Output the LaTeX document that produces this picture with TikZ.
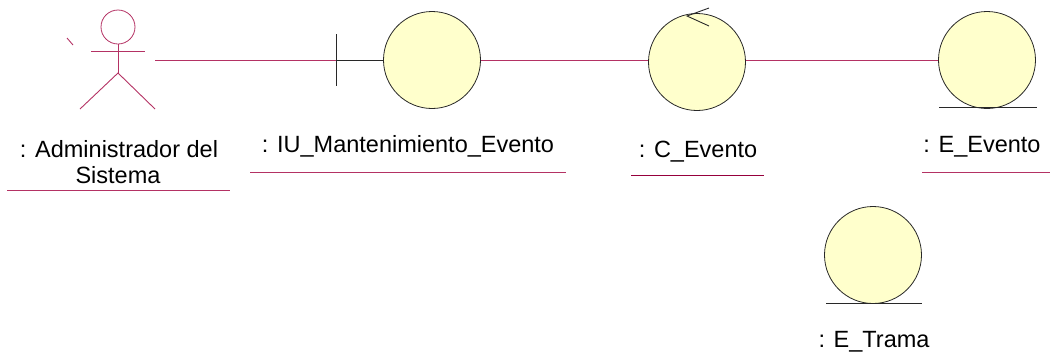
\documentclass[tikz,border=0pt]{standalone}
\usepackage{fontspec}
\setmainfont{Liberation Sans}
\definecolor{lnk}{RGB}{180,50,100}
\definecolor{dlnk}{RGB}{150,0,60}
\definecolor{objfill}{RGB}{255,255,204}
\definecolor{objline}{RGB}{40,40,40}
\tikzset{
  obj/.style={circle,draw=objline,fill=objfill,line width=0.8pt,minimum size=#1,inner sep=0pt},
  lbl/.style={anchor=base,inner sep=0pt,font=\fontsize{23.5}{28}\selectfont},
  lnkline/.style={draw=lnk,line width=0.9pt},
  blk/.style={draw=objline,line width=0.9pt}
}
\begin{document}
\begin{tikzpicture}[x=1pt,y=-1pt]
\useasboundingbox (0,0) rectangle (1050,360);
% actor
\node[circle,draw=lnk,line width=0.8pt,minimum size=34pt,inner sep=0pt] (head) at (118,27) {};
\coordinate (hip) at (118,73);
\coordinate (larm) at (91,51);
\coordinate (rarm) at (145,51);
\coordinate (lleg) at (80,109);
\coordinate (rleg) at (155,109);
\draw[lnkline] (head.south) -- (hip);
\draw[lnkline] (larm) -- (rarm);
\draw[lnkline] (lleg) -- (hip) -- (rleg);
\draw[lnkline] (67,38) -- (73,45);
\coordinate (actR) at (155,60);
\node[lbl] (actlbl1) at (119,157) {: Administrador del};
\node[lbl] (actlbl2) at (118,183) {Sistema};
\draw[lnkline] (7,190) -- (230,190);
% boundary
\node[obj=97pt] (iu) at (432,60) {};
\coordinate (bartop) at (336,34);
\coordinate (barbot) at (336,86);
\coordinate (barmid) at (336,60);
\draw[blk] (bartop) -- (barbot);
\draw[blk] (barmid) -- (iu.west);
\draw[lnkline] (actR) -- (barmid);
\node[lbl] (iulbl) at (408,152) {: IU\_Mantenimiento\_Evento};
\draw[lnkline] (250,172) -- (566,172);
% control
\node[obj=97pt] (ctl) at (697,62) {};
\draw[blk] (709,8) -- (687,16) -- (709,26);
\node[lbl] (ctllbl) at (698,157) {: C\_Evento};
\draw[draw=dlnk,line width=0.9pt] (631,175) -- (764,175);
% entity E_Evento
\node[obj=97pt] (eev) at (987,60) {};
\draw[blk] (939,107.5) -- (1037,107.5);
\node[lbl] (eevlbl) at (982,152) {: E\_Evento};
\draw[lnkline] (922,172) -- (1050,172);
% entity E_Trama
\node[obj=97pt] (etr) at (873,255) {};
\draw[blk] (826,303.5) -- (922,303.5);
\node[lbl] (etrlbl) at (874,347) {: E\_Trama};
% links
\begin{scope}[on background layer/.try]
\draw[lnkline] (iu.east) -- (ctl.west |- iu.east);
\draw[lnkline] (ctl.east |- iu.east) -- (eev.west);
\end{scope}
\end{tikzpicture}
\end{document}
